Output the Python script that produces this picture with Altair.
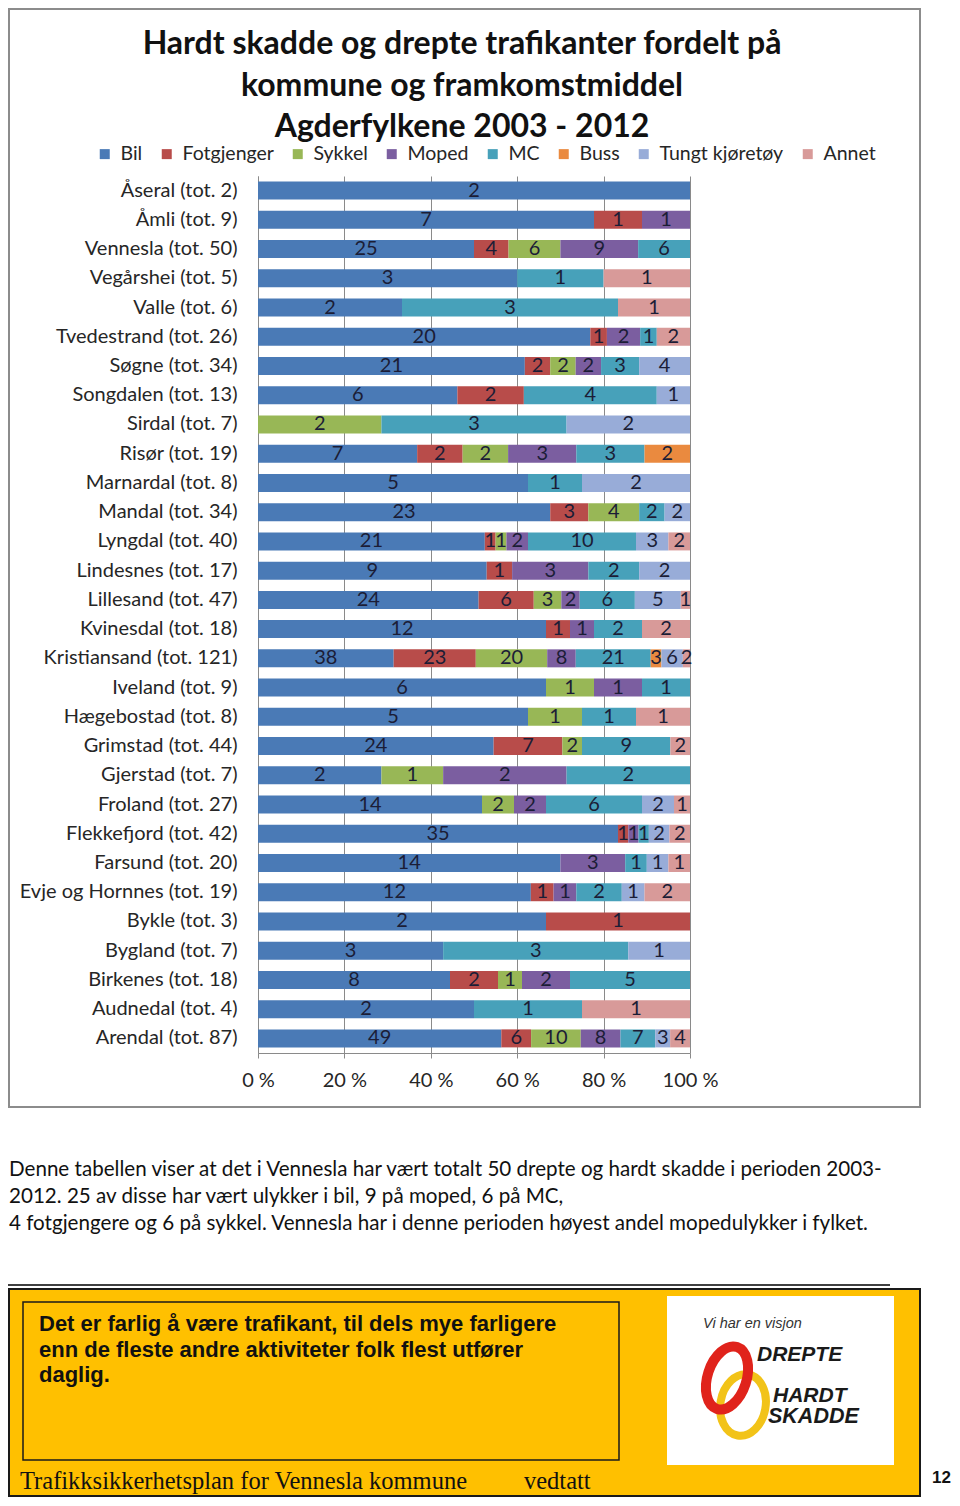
import altair as alt
import pandas as pd

# ---------------- data ----------------
kommuner = [
    "Åseral (tot. 2)", "Åmli (tot. 9)", "Vennesla (tot. 50)", "Vegårshei (tot. 5)",
    "Valle (tot. 6)", "Tvedestrand (tot. 26)", "Søgne (tot. 34)", "Songdalen (tot. 13)",
    "Sirdal (tot. 7)", "Risør (tot. 19)", "Marnardal (tot. 8)", "Mandal (tot. 34)",
    "Lyngdal (tot. 40)", "Lindesnes (tot. 17)", "Lillesand (tot. 47)", "Kvinesdal (tot. 18)",
    "Kristiansand (tot. 121)", "Iveland (tot. 9)", "Hægebostad (tot. 8)", "Grimstad (tot. 44)",
    "Gjerstad (tot. 7)", "Froland (tot. 27)", "Flekkefjord (tot. 42)", "Farsund (tot. 20)",
    "Evje og Hornnes (tot. 19)", "Bykle (tot. 3)", "Bygland (tot. 7)", "Birkenes (tot. 18)",
    "Audnedal (tot. 4)", "Arendal (tot. 87)",
]

bil        = [2, 7, 25, 3, 2, 20, 21, 6, 0, 7, 5, 23, 21, 9, 24, 12, 38, 6, 5, 24, 2, 14, 35, 14, 12, 2, 3, 8, 2, 49]
fotgjenger = [0, 1, 4, 0, 0, 1, 2, 2, 0, 2, 0, 3, 1, 1, 6, 1, 23, 0, 0, 7, 0, 0, 1, 0, 1, 1, 0, 2, 0, 6]
sykkel     = [0, 0, 6, 0, 0, 0, 2, 0, 2, 2, 0, 4, 1, 0, 3, 0, 20, 1, 1, 2, 1, 2, 0, 0, 0, 0, 0, 1, 0, 10]
moped      = [0, 1, 9, 0, 0, 2, 2, 0, 0, 3, 0, 0, 2, 3, 2, 1, 8, 1, 0, 0, 2, 2, 1, 3, 1, 0, 0, 2, 0, 8]
mc         = [0, 0, 6, 1, 3, 1, 3, 4, 3, 3, 1, 2, 10, 2, 6, 2, 21, 1, 1, 9, 2, 6, 1, 1, 2, 0, 3, 5, 1, 7]
buss       = [0, 0, 0, 0, 0, 0, 0, 0, 0, 2, 0, 0, 0, 0, 0, 0, 3, 0, 0, 0, 0, 0, 0, 0, 0, 0, 0, 0, 0, 0]
tungt      = [0, 0, 0, 0, 0, 0, 4, 1, 2, 0, 2, 2, 3, 2, 5, 0, 6, 0, 0, 0, 0, 2, 2, 1, 1, 0, 1, 0, 0, 3]
annet      = [0, 0, 0, 1, 1, 2, 0, 0, 0, 0, 0, 0, 2, 0, 1, 2, 2, 0, 1, 2, 0, 1, 2, 1, 2, 0, 0, 0, 1, 4]

kategorier = ["Bil", "Fotgjenger", "Sykkel", "Moped", "MC", "Buss", "Tungt kjøretøy", "Annet"]
farger = ["#4A7AB6", "#B84C4A", "#98B756", "#7B5EA0", "#47A1BA", "#EA8A3F", "#98ACD8", "#D89A99"]
serier = [bil, fotgjenger, sykkel, moped, mc, buss, tungt, annet]

tittel = [
    "Hardt skadde og drepte trafikanter fordelt på",
    "kommune og framkomstmiddel",
    "Agderfylkene 2003 - 2012",
]
avsnitt = [
    "Denne tabellen viser at det i Vennesla har vært totalt 50 drepte og hardt skadde i perioden 2003-",
    "2012. 25 av disse har vært ulykker i bil, 9 på moped, 6 på MC,",
    "4 fotgjengere og 6 på sykkel. Vennesla har i denne perioden høyest andel mopedulykker i fylket.",
]
boks_tekst = [
    "Det er farlig å være trafikant, til dels mye farligere",
    "enn de fleste andre aktiviteter folk flest utfører",
    "daglig.",
]

rows = []
for i, k in enumerate(kommuner):
    for j, (cat, vals) in enumerate(zip(kategorier, serier)):
        if vals[i] > 0:
            rows.append({"kommune": k, "kategori": cat, "antall": vals[i], "rekke": j})
df = pd.DataFrame(rows)

FONT = "Lato"
TXT = "#262626"

base = alt.Chart(df).transform_stack(
    stack="antall", groupby=["kommune"], as_=["x0", "x1"], offset="normalize",
    sort=[alt.SortField("rekke", order="ascending")],
).transform_calculate(mid="(datum.x0 + datum.x1) / 2")

yenc = alt.Y(
    "kommune:N", sort=kommuner, title=None,
    scale=alt.Scale(paddingInner=0.384, paddingOuter=0.192),
    axis=alt.Axis(labelFont=FONT, labelFontSize=20, labelColor=TXT, ticks=False,
                  labelPadding=21, domainColor="#8a8a8a", domainWidth=1, labelLimit=400),
)

bars = base.mark_bar().encode(
    y=yenc,
    x=alt.X("x0:Q", title=None, scale=alt.Scale(domain=[0, 1], nice=False),
            axis=alt.Axis(values=[0, 0.2, 0.4, 0.6, 0.8, 1.0],
                          labelExpr="format(datum.value * 100, 'd') + ' %'",
                          labelFont=FONT, labelFontSize=20, labelColor=TXT, labelFlush=False,
                          tickSize=5, tickColor="#8a8a8a", labelPadding=12,
                          grid=True, gridColor="#8a8a8a", gridWidth=1,
                          domainColor="#8a8a8a", domainWidth=1)),
    x2="x1:Q",
    color=alt.Color("kategori:N", scale=alt.Scale(domain=kategorier, range=farger),
                    legend=alt.Legend(orient="none", legendX=-163, legendY=-32,
                                      direction="horizontal", columns=8, title=None,
                                      symbolType="square", symbolSize=100, symbolStrokeWidth=0,
                                      labelFont=FONT, labelFontSize=19.5, labelColor=TXT,
                                      columnPadding=14, labelOffset=6, padding=0)),
    order=alt.Order("rekke:Q"),
)

labels = base.mark_text(font=FONT, fontSize=20, color="#1b1d36", baseline="middle", align="center").encode(
    y=alt.Y("kommune:N", sort=kommuner),
    x=alt.X("mid:Q"),
    text="antall:Q",
)

one = pd.DataFrame({"k": [0]})

frame = alt.Chart(one).mark_rect(fillOpacity=0, stroke="#8c8c8c", strokeWidth=2).encode(
    x=alt.value(-249), x2=alt.value(662), y=alt.value(-167), y2=alt.value(931))

title_layer = alt.Chart(one).mark_text(font=FONT, fontSize=32, fontWeight="bold", color="#111111",
                                       align="center", baseline="middle", lineHeight=41.5).encode(
    x=alt.value(204), y=alt.value(-132), text=alt.value(tittel))

para = alt.Chart(one).mark_text(font=FONT, fontSize=20.6, color="#111111",
                                align="left", baseline="middle", lineHeight=27).encode(
    x=alt.value(-249), y=alt.value(994), text=alt.value(avsnitt))

hrule = alt.Chart(one).mark_rule(stroke="#404040", strokeWidth=2).encode(
    x=alt.value(-250), x2=alt.value(632), y=alt.value(1109))

ybox = alt.Chart(one).mark_rect(fill="#FFC000", stroke="#1a1a1a", strokeWidth=2).encode(
    x=alt.value(-249), x2=alt.value(662), y=alt.value(1113), y2=alt.value(1320))

ibox = alt.Chart(one).mark_rect(fillOpacity=0, stroke="#1a1a1a", strokeWidth=1.5).encode(
    x=alt.value(-235), x2=alt.value(361), y=alt.value(1126), y2=alt.value(1284))

btext = alt.Chart(one).mark_text(font="Liberation Sans", fontSize=22, fontWeight="bold", color="#111111",
                                 align="left", baseline="middle", lineHeight=25.5).encode(
    x=alt.value(-219), y=alt.value(1148), text=alt.value(boks_tekst))

logo_bg = alt.Chart(one).mark_rect(fill="white").encode(
    x=alt.value(409), x2=alt.value(636), y=alt.value(1120), y2=alt.value(1289))

visjon = alt.Chart(one).mark_text(font="Liberation Sans", fontSize=14.5, fontStyle="italic", color="#333333",
                                  align="left", baseline="middle").encode(
    x=alt.value(445), y=alt.value(1148), text=alt.value("Vi har en visjon"))

ring_y = alt.Chart(one).mark_point(shape="M0,-1 A0.73,1 0 1,1 0,1 A0.73,1 0 1,1 0,-1 Z",
                                   size=3844, filled=False, stroke="#F2C318", strokeWidth=8,
                                   opacity=1, angle=10).encode(
    x=alt.value(485), y=alt.value(1229))

ring_r = alt.Chart(one).mark_point(shape="M0,-1 A0.6,1 0 1,1 0,1 A0.6,1 0 1,1 0,-1 Z",
                                   size=4225, filled=False, stroke="#E0231B", strokeWidth=10,
                                   opacity=1, angle=18).encode(
    x=alt.value(469), y=alt.value(1202))

def logo_word(word, x, y, size):
    return alt.Chart(one).mark_text(font="Liberation Sans", fontSize=size, fontWeight="bold",
                                    fontStyle="italic", color="#1a1a1a", align="left",
                                    baseline="middle").encode(
        x=alt.value(x), y=alt.value(y), text=alt.value(word))

w1 = logo_word("DREPTE", 499, 1179, 21)
w2 = logo_word("HARDT", 515, 1220, 21)
w3 = logo_word("SKADDE", 510, 1241, 21.5)

footer1 = alt.Chart(one).mark_text(font="Liberation Serif", fontSize=24.5, color="#111111",
                                   align="left", baseline="middle").encode(
    x=alt.value(-238), y=alt.value(1306), text=alt.value("Trafikksikkerhetsplan for Vennesla kommune"))

footer2 = alt.Chart(one).mark_text(font="Liberation Serif", fontSize=24.5, color="#111111",
                                   align="left", baseline="middle").encode(
    x=alt.value(266), y=alt.value(1306), text=alt.value("vedtatt"))

pagenr = alt.Chart(one).mark_text(font="Liberation Sans", fontSize=17, fontWeight="bold", color="#111111",
                                  align="right", baseline="middle").encode(
    x=alt.value(693), y=alt.value(1302), text=alt.value("12"))

chart = alt.layer(
    frame, bars, labels, title_layer, para, hrule, ybox, ibox, btext,
    logo_bg, visjon, ring_y, ring_r, w1, w2, w3, footer1, footer2, pagenr,
).properties(
    width=432, height=877,
    autosize=alt.AutoSizeParams(type="none"),
    padding={"left": 250, "top": 168, "right": 262, "bottom": 445},
    background="white",
).configure_view(strokeWidth=0)

chart.save("out.html", embed_options={"renderer": "svg", "actions": False})
